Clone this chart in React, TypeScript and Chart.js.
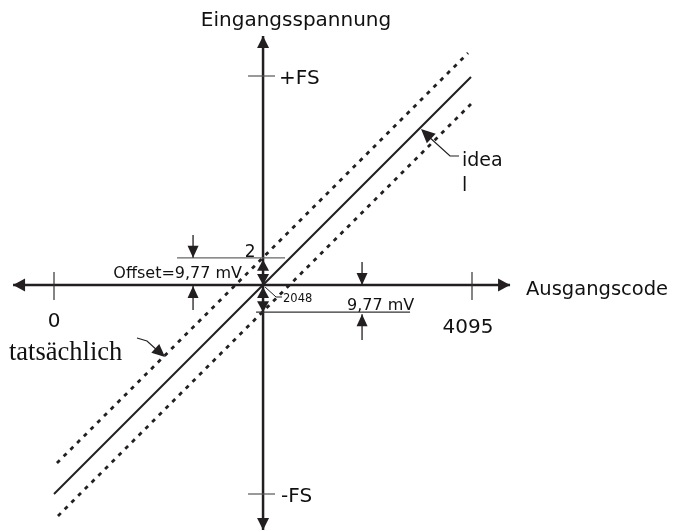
import React, { useEffect, useRef } from "react";
import { Chart, registerables } from "chart.js";

Chart.register(...registerables);

// ---- data ----
const centerCode = 2048;
const codeTicks = [0, 4095];
const codeTickLabels = ["0", "4095"];
const fsTicks = [-1, 1];
const fsTickLabels = ["-FS", "+FS"];
const offsetFS = 0.13;

const idealX = [0, 4085];
const idealY = [-1, 0.995];
const actualUpperX = [29, 4056];
const actualUpperY = [-0.852, 1.11];
const actualLowerX = [39, 4085];
const actualLowerY = [-1.105, 0.866];

const pts = (xs: number[], ys: number[]) => xs.map((x, i) => ({ x, y: ys[i] }));

const INK = "#231f20";
const SANS = '"DejaVu Sans", sans-serif';

function head(ctx: CanvasRenderingContext2D, x1: number, y1: number, x2: number, y2: number, len: number, hw: number) {
  const a = Math.atan2(y2 - y1, x2 - x1);
  const bx = x2 - len * Math.cos(a);
  const by = y2 - len * Math.sin(a);
  ctx.beginPath();
  ctx.moveTo(x2, y2);
  ctx.lineTo(bx + hw * Math.sin(a), by - hw * Math.cos(a));
  ctx.lineTo(bx - hw * Math.sin(a), by + hw * Math.cos(a));
  ctx.closePath();
  ctx.fill();
}

function arrow(ctx: CanvasRenderingContext2D, x1: number, y1: number, x2: number, y2: number, len: number, hw: number, lw: number) {
  ctx.lineWidth = lw;
  ctx.beginPath();
  ctx.moveTo(x1, y1);
  ctx.lineTo(x2, y2);
  ctx.stroke();
  head(ctx, x1, y1, x2, y2, len, hw);
}

function seg(ctx: CanvasRenderingContext2D, x1: number, y1: number, x2: number, y2: number, lw: number, color: string) {
  ctx.strokeStyle = color;
  ctx.lineWidth = lw;
  ctx.beginPath();
  ctx.moveTo(x1, y1);
  ctx.lineTo(x2, y2);
  ctx.stroke();
}

function text(ctx: CanvasRenderingContext2D, s: string, x: number, y: number, size: number, align: CanvasTextAlign = "left", family = SANS) {
  ctx.font = `${size}px ${family}`;
  ctx.textAlign = align;
  ctx.textBaseline = "alphabetic";
  ctx.fillStyle = "#111";
  ctx.fillText(s, x, y);
}

const overlay = {
  id: "overlay",
  afterDraw(chart: any) {
    const ctx: CanvasRenderingContext2D = chart.ctx;
    const xs = chart.scales.x;
    const ys = chart.scales.y;
    const cx = xs.getPixelForValue(centerCode);
    const cy = ys.getPixelForValue(0);
    const yOffUp = ys.getPixelForValue(offsetFS);
    const yOffDn = ys.getPixelForValue(-offsetFS);
    ctx.save();
    ctx.fillStyle = INK;
    ctx.strokeStyle = INK;
    ctx.lineCap = "butt";

    // main axes with arrowheads
    arrow(ctx, cx, cy, cx - 250, cy, 12, 6.5, 2.5);
    arrow(ctx, cx, cy, cx + 247, cy, 12, 6.5, 2.5);
    arrow(ctx, cx, cy, cx, cy - 249, 12, 6, 2.5);
    arrow(ctx, cx, cy, cx, cy + 245, 12, 6, 2.5);

    // code ticks
    codeTicks.forEach((v, i) => {
      const px = xs.getPixelForValue(v);
      seg(ctx, px, cy - 13, px, cy + 15, 1.2, "#333");
      if (i === 0) text(ctx, codeTickLabels[i], px, cy + 42, 20, "center");
      else text(ctx, codeTickLabels[i], px - 4, cy + 48, 20, "center");
    });
    // FS ticks
    fsTicks.forEach((v, i) => {
      const py = ys.getPixelForValue(v);
      seg(ctx, cx - 15, py, cx + 12, py, 1.2, "#555");
      text(ctx, fsTickLabels[i], cx + (v < 0 ? 18 : 16), py + 8, 20, "left");
    });

    // axis titles
    text(ctx, "Eingangsspannung", cx + 33, 26, 20, "center");
    text(ctx, "Ausgangscode", 526, cy + 10, 19.5, "left");

    // offset marker lines
    seg(ctx, cx - 86, yOffUp, cx + 22, yOffUp, 1.3, "#666");
    seg(ctx, cx - 7, yOffDn, cx + 147, yOffDn, 1.3, "#333");

    ctx.strokeStyle = INK;
    ctx.fillStyle = INK;
    // left offset arrows
    arrow(ctx, cx - 70, cy - 50, cx - 70, yOffUp, 12, 5.5, 1.3);
    arrow(ctx, cx - 70, cy + 25, cx - 70, cy + 1, 12, 5.5, 1.3);
    // right offset arrows
    arrow(ctx, cx + 99, cy - 23, cx + 99, cy, 12, 5.5, 1.3);
    arrow(ctx, cx + 99, cy + 55, cx + 99, yOffDn + 2, 12, 5.5, 1.3);
    // double arrows on vertical axis
    head(ctx, cx, cy, cx, yOffUp + 2, 11, 6);
    head(ctx, cx, yOffUp, cx, cy, 11, 6);
    head(ctx, cx, yOffDn, cx, cy + 2, 11, 6);
    head(ctx, cx, cy, cx, yOffDn, 11, 6);

    // labels near origin
    text(ctx, "Offset=9,77 mV", cx - 21, cy - 7, 16, "right");
    text(ctx, "2", cx - 13, cy - 28, 17, "center");
    text(ctx, "9,77 mV", cx + 84, cy + 25, 16, "left");
    text(ctx, "2048", cx + 20, cy + 17, 11.5, "left");
    ctx.lineWidth = 1;
    ctx.strokeStyle = INK;
    ctx.beginPath();
    ctx.moveTo(cx + 2, cy + 2);
    ctx.lineTo(cx + 13, cy + 12);
    ctx.lineTo(cx + 19, cy + 12);
    ctx.stroke();

    // "ideal" pointer
    ctx.fillStyle = INK;
    ctx.lineWidth = 1.2;
    ctx.beginPath();
    ctx.moveTo(459, 156);
    ctx.lineTo(450, 156);
    ctx.lineTo(428, 136);
    ctx.stroke();
    head(ctx, 450, 156, 421, 129, 14, 6.5);
    text(ctx, "idea", 462, 166, 19, "left");
    text(ctx, "l", 462, 191, 19, "left");

    // "tatsächlich" pointer
    ctx.fillStyle = INK;
    ctx.lineWidth = 1.1;
    ctx.beginPath();
    ctx.moveTo(137, 338);
    ctx.lineTo(147, 341);
    ctx.lineTo(158, 351);
    ctx.stroke();
    head(ctx, 147, 341, 165, 357, 13, 6);
    text(ctx, "tatsächlich", 9, 360, 26.5, "left", '"Liberation Serif", serif');

    ctx.restore();
  },
};

export default function App() {
  const ref = useRef<HTMLCanvasElement | null>(null);
  useEffect(() => {
    document.body.style.margin = "0";
    const pxPerCode = 418 / 4095;
    const x0 = 54;
    const pxPerFS = 209;
    const y0 = 285;
    const chart = new Chart(ref.current as HTMLCanvasElement, {
      type: "line",
      data: {
        datasets: [
          {
            label: "ideal",
            data: pts(idealX, idealY),
            borderColor: INK,
            borderWidth: 2,
            pointRadius: 0,
            fill: false,
          },
          {
            label: "tatsächlich",
            data: pts(actualUpperX, actualUpperY),
            borderColor: INK,
            borderWidth: 2.8,
            borderDash: [4, 5.5],
            pointRadius: 0,
            fill: false,
          },
          {
            label: "tatsächlich 2",
            data: pts(actualLowerX, actualLowerY),
            borderColor: INK,
            borderWidth: 2.8,
            borderDash: [4, 5.5],
            pointRadius: 0,
            fill: false,
          },
        ],
      },
      options: {
        animation: false,
        responsive: false,
        maintainAspectRatio: false,
        layout: { padding: 0 },
        plugins: { legend: { display: false }, tooltip: { enabled: false } },
        scales: {
          x: { type: "linear", display: false, min: -x0 / pxPerCode, max: (675 - x0) / pxPerCode },
          y: { type: "linear", display: false, min: -(531 - y0) / pxPerFS, max: y0 / pxPerFS },
        },
      },
      plugins: [overlay],
    });
    return () => chart.destroy();
  }, []);
  return (
    <div style={{ position: "absolute", left: 0, top: 0, width: 675, height: 531, background: "#fff" }}>
      <canvas ref={ref} width={675} height={531} style={{ width: 675, height: 531 }} />
    </div>
  );
}
